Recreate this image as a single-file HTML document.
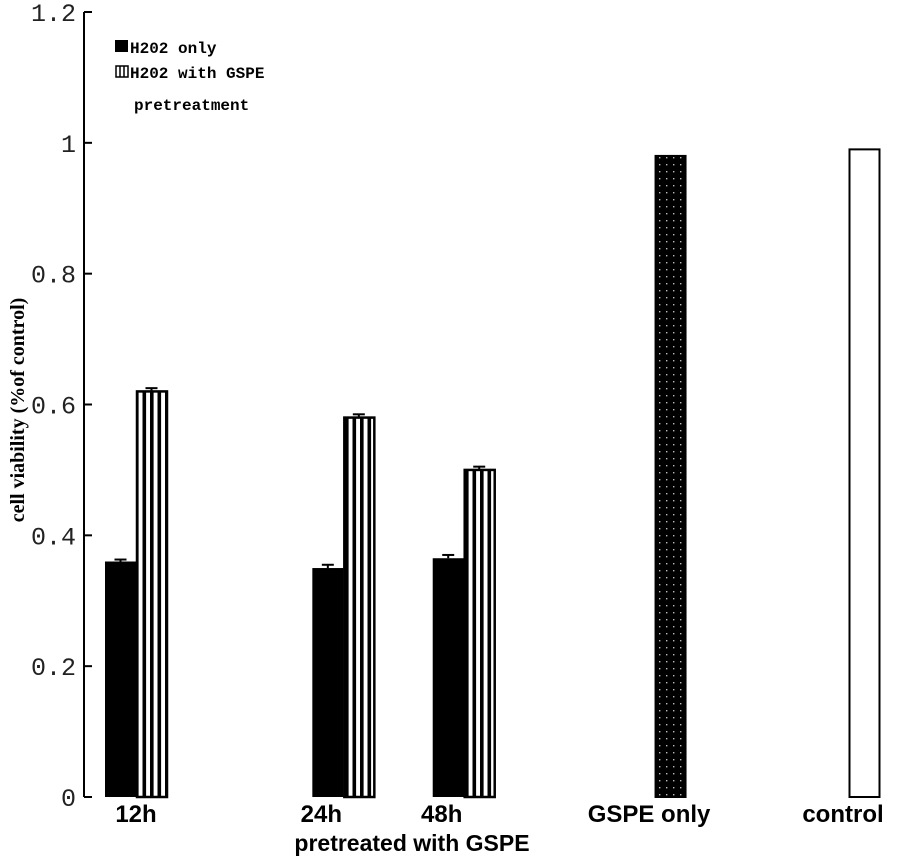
<!DOCTYPE html>
<html><head><meta charset="utf-8"><style>
body{margin:0;background:#fff;}
svg{display:block;}
</style></head><body>
<svg id="chart" width="910" height="860" xmlns="http://www.w3.org/2000/svg">
<defs>
<pattern id="stripes" patternUnits="userSpaceOnUse" width="7.5" height="10" x="135">
<rect x="0" y="0" width="7.5" height="10" fill="#fff"/>
<rect x="0" y="0" width="3.6" height="10" fill="#000"/>
</pattern>
<pattern id="dots" patternUnits="userSpaceOnUse" width="7" height="7" x="656">
<rect width="7" height="7" fill="#000"/>
<rect x="3" y="3" width="1.4" height="1.4" fill="#bbb"/>
</pattern>
</defs>
<g id="axes"></g>
<g id="bars"></g>
</svg>
<script>
const categories = ["12h","24h","48h","GSPE only","control"];
const catPos = [0.5, 2.05, 2.95, 4.5, 5.95];
const h2o2Only = [0.36, 0.35, 0.365, null, null];
const h2o2Err = [0.003, 0.005, 0.005, null, null];
const gspePre = [0.62, 0.58, 0.50, null, null];
const gspeErr = [0.005, 0.005, 0.005, null, null];
const singleVals = [null, null, null, 0.98, 0.99];
const yTicks = [0, 0.2, 0.4, 0.6, 0.8, 1, 1.2];
const yTickLabels = ["0","0.2","0.4","0.6","0.8","1","1.2"];

const NS="http://www.w3.org/2000/svg";
const y0=797, yTop=12, ymax=1.2;
function yScale(v){return y0-(v/ymax)*(y0-yTop);}
function xScale(p){return 136+(p-0.5)*(865-136)/(5.95-0.5);}
function mk(tag,attrs,parent){const e=document.createElementNS(NS,tag);for(const k in attrs)e.setAttribute(k,attrs[k]);parent.appendChild(e);return e;}
const axes=document.getElementById('axes'), bars=document.getElementById('bars');

let a=mk('line',{x1:84,y1:yTop,x2:84,y2:y0,stroke:'#000','stroke-width':2},axes);


yTicks.forEach((t,i)=>{
  const y=yScale(t);
  let tk=mk('line',{x1:84,y1:y,x2:92,y2:y,stroke:'#000','stroke-width':2},axes);
  
  
  let tl=mk('text',{x:76,y:y+9,'text-anchor':'end','font-family':'Liberation Mono, monospace','font-size':25,fill:'#222'},axes);
  tl.textContent=yTickLabels[i];
  
  
});
let yt=mk('text',{transform:'translate(24,410) rotate(-90)','text-anchor':'middle','font-family':'Liberation Serif, serif','font-weight':'bold','font-size':20},axes);
yt.textContent='cell viability (%of control)';


let xt=mk('text',{x:412,y:851,'text-anchor':'middle','font-family':'Liberation Sans, sans-serif','font-weight':'bold','font-size':23},axes);
xt.textContent='pretreated with GSPE';



const bw=31;
categories.forEach((c,i)=>{
  const cx=xScale(catPos[i]);
  const lx = i===0 ? cx : cx-22;
  let lb=mk('text',{x:lx,y:822,'text-anchor':'middle','font-family':'Liberation Sans, sans-serif','font-weight':'bold','font-size':24},axes);
  lb.textContent=c;
  
  
  if(h2o2Only[i]!=null){
    const y=yScale(h2o2Only[i]);
    let r=mk('rect',{x:cx-bw,y:y,width:bw,height:y0-y,fill:'#000'},bars);
    
    
    const ye=yScale(h2o2Only[i]+h2o2Err[i]);
    mk('line',{x1:cx-bw/2,y1:ye,x2:cx-bw/2,y2:y,stroke:'#000','stroke-width':2},bars);
    mk('line',{x1:cx-bw/2-6,y1:ye,x2:cx-bw/2+6,y2:ye,stroke:'#000','stroke-width':2},bars);
  }
  if(gspePre[i]!=null){
    const y=yScale(gspePre[i]);
    const ye=yScale(gspePre[i]+gspeErr[i]);
    mk('line',{x1:cx+bw/2,y1:ye,x2:cx+bw/2,y2:y,stroke:'#000','stroke-width':2},bars);
    mk('line',{x1:cx+bw/2-6,y1:ye,x2:cx+bw/2+6,y2:ye,stroke:'#000','stroke-width':2},bars);
    let r=mk('rect',{x:cx+1,y:y,width:bw-1,height:y0-y,fill:'url(#stripes)',stroke:'#000','stroke-width':2.5},bars);
    
    
  }
  if(singleVals[i]!=null){
    const y=yScale(singleVals[i]);
    const isCtrl=c==='control';
    let r=mk('rect',{x:cx-bw/2,y:y,width:bw-1,height:y0-y,fill:isCtrl?'#fff':'url(#dots)',stroke:'#000','stroke-width':2},bars);
    
    
  }
});

const lg=mk('g',{},axes);


mk('rect',{x:115,y:40,width:13,height:12,fill:'#000'},lg);
mk('rect',{x:116,y:66,width:12,height:11,fill:'#fff',stroke:'#000','stroke-width':1.5},lg);
mk('line',{x1:120,y1:66,x2:120,y2:77,stroke:'#000','stroke-width':1.5},lg);
mk('line',{x1:124,y1:66,x2:124,y2:77,stroke:'#000','stroke-width':1.5},lg);
[["H202 only",53],["H202 with GSPE",78],["pretreatment",110]].forEach((t,i)=>{
  let e=mk('text',{x:i==2?134:130,y:t[1],'font-family':'Liberation Mono, monospace','font-weight':'bold','font-size':16},lg);
  e.textContent=t[0];
  
  
});
</script>
</body></html>
